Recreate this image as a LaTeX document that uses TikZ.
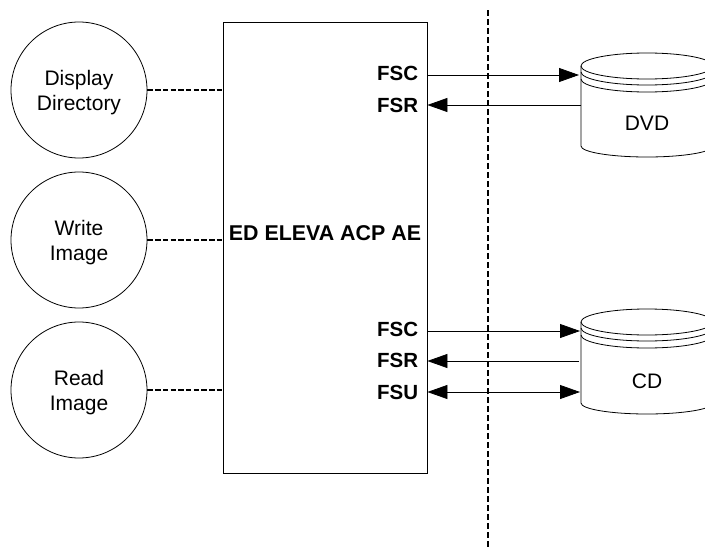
\documentclass[tikz,border=0pt]{standalone}
\usepackage{fontspec}
\setmainfont{Liberation Sans}
\usepackage{tikz}
\usetikzlibrary{arrows.meta,positioning,calc}
\tikzset{
    app/.style={circle, draw, minimum size=136pt, inner sep=0pt, align=center, text depth=0pt, font=\fontsize{21}{25}\selectfont},
    port/.style={anchor=east, inner sep=0pt, font=\fontsize{20.5}{24}\selectfont\bfseries},
    disklabel/.style={inner sep=0pt, font=\fontsize{21}{24}\selectfont},
    assoc/.style={dash pattern=on 5.5pt off 2.2pt, line width=1.2pt},
    flow/.style={-{Triangle[length=20pt,width=14pt]}, line width=0.8pt},
    duplex/.style={{Triangle[length=20pt,width=14pt]}-{Triangle[length=20pt,width=14pt]}, line width=0.8pt}
}
\begin{document}
\begin{tikzpicture}[x=1pt, y=-1pt, line width=0.8pt]
    \path[use as bounding box, clip] (0,0) rectangle (705,549);

    % Applications on the left
    \node[app] (display) at (79,90) {Display\\Directory};
    \node[app] (write) at (79,240) {Write\\Image};
    \node[app] (read) at (79,390) {Read\\Image};

    % Application entity
    \node[draw, minimum width=204pt, minimum height=451pt, inner sep=0pt] (ae) at (325,247.5) {};
    \node[inner sep=0pt, font=\fontsize{21.4}{24}\selectfont\bfseries] (aetitle) at (325,233.5) {ED ELEVA ACP AE};

    \draw[assoc] (display) -- (display -| ae.west);
    \draw[assoc] (write) -- (write -| ae.west);
    \draw[assoc] (read) -- (read -| ae.west);

    % Boundary
    \coordinate (boundtop) at (488,10);
    \coordinate (boundbot) at (488,549);
    \draw[dash pattern=on 6pt off 3pt, line width=1.6pt] (boundtop) -- (boundbot);

    % Media
    \draw (581,66) arc[start angle=180, end angle=-180, x radius=66, y radius=13];
    \draw (581,72) arc[start angle=180, end angle=0, x radius=66, y radius=13];
    \draw (581,79) arc[start angle=180, end angle=0, x radius=66, y radius=13];
    \draw (581,66) -- (581,146) arc[start angle=180, end angle=0, x radius=66, y radius=11] -- (713,66);
    \node[disklabel] (dvd) at (647,123) {DVD};

    \draw (581,322) arc[start angle=180, end angle=-180, x radius=66, y radius=13];
    \draw (581,328) arc[start angle=180, end angle=0, x radius=66, y radius=13];
    \draw (581,335) arc[start angle=180, end angle=0, x radius=66, y radius=13];
    \draw (581,322) -- (581,403) arc[start angle=180, end angle=0, x radius=66, y radius=11] -- (713,322);
    \node[disklabel] (cd) at (647,381) {CD};

    % Ports and links
    \node[port] (fsc1) at (418.5,73) {FSC};
    \node[port] (fsr1) at (418.5,105) {FSR};
    \node[port] (fsc2) at (418.5,329) {FSC};
    \node[port] (fsr2) at (418.5,360) {FSR};
    \node[port] (fsu2) at (418.5,392) {FSU};

    \coordinate (dvdin) at (579,75);
    \coordinate (dvdout) at (581,105);
    \coordinate (cdin) at (580,331);
    \coordinate (cdout) at (579,361);
    \coordinate (cdup) at (580,392);

    \draw[flow] (dvdin -| ae.east) -- (dvdin);
    \draw[flow] (dvdout) -- (dvdout -| ae.east);
    \draw[flow] (cdin -| ae.east) -- (cdin);
    \draw[flow] (cdout) -- (cdout -| ae.east);
    \draw[duplex] (cdup -| ae.east) -- (cdup);
\end{tikzpicture}
\end{document}
